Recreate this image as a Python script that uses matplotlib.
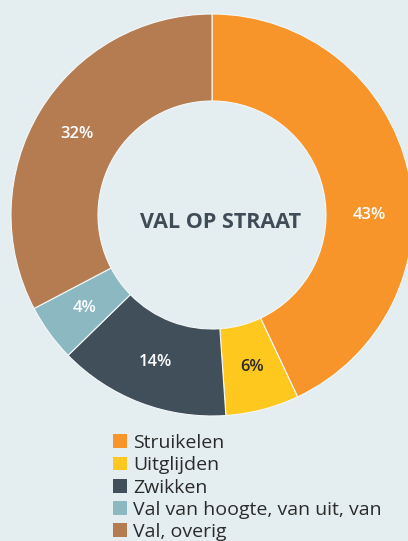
import numpy as np
import matplotlib
matplotlib.use('Agg')
import matplotlib.pyplot as plt

# data
names = ['Struikelen', 'Uitglijden', 'Zwikken', 'Val van hoogte, van uit, van', 'Val, overig']
shares = [43.0, 5.9, 13.8, 4.6, 32.7]  # share of the ring, percent
pct_labels = ['43%', '6%', '14%', '4%', '32%']
colors = ['#F7952B', '#FFC81E', '#414F5B', '#8CB8C2', '#B57C52']
label_colors = ['white', '#2a2a2a', 'white', 'white', 'white']
title = 'VAL OP STRAAT'

bg = '#E4EEF1'
W, H = 408, 541
fig = plt.figure(figsize=(W / 100, H / 100), dpi=100)
fig.patch.set_facecolor(bg)

# pie centre and radius in pixels
cx, cy, R = 212, 215, 201
half = 220
ax = fig.add_axes([(cx - half) / W, (H - cy - half) / H, 2 * half / W, 2 * half / H])
ax.set_facecolor(bg)
ax.axis('off')

wedges, texts = ax.pie(shares, colors=colors, startangle=90, counterclock=False,
                       radius=1.0,
                       wedgeprops=dict(width=(R - 114) / R, edgecolor='#f4f8f9', linewidth=0.8))
ax.set_xlim(-half / R, half / R)
ax.set_ylim(-half / R, half / R)
ax.set_aspect('equal')

# percentage labels in the middle of the ring
mid = (1 + 114 / R) / 2
total = sum(shares)
start = 90.0
for i, v in enumerate(shares):
    ang = start - 360 * v / total / 2
    start -= 360 * v / total
    if i == 0:
        ang = 0.0  # the big slice has its label on the horizontal
    x = mid * np.cos(np.radians(ang))
    y = mid * np.sin(np.radians(ang))
    ax.text(x, y, pct_labels[i], ha='center', va='center', color=label_colors[i],
            fontsize=12, fontweight='semibold', family='Open Sans')

ax.text(9 / R, -8 / R, title, ha='center', va='center', color='#3F4C57',
        fontsize=15.5, fontweight='bold', family='Open Sans')

leg = fig.legend(wedges, names, loc='upper left', bbox_to_anchor=(113 / W, 1 - 434 / H),
                 frameon=False, handlelength=0.72, handleheight=0.72,
                 handletextpad=0.3, labelspacing=0.22, borderaxespad=0, borderpad=0,
                 prop=dict(family='Open Sans', size=14))
for t in leg.get_texts():
    t.set_color('#2b2b2b')
for h in leg.legend_handles:
    h.set_edgecolor('none')

fig.savefig('out.png', dpi=100, facecolor=bg)
